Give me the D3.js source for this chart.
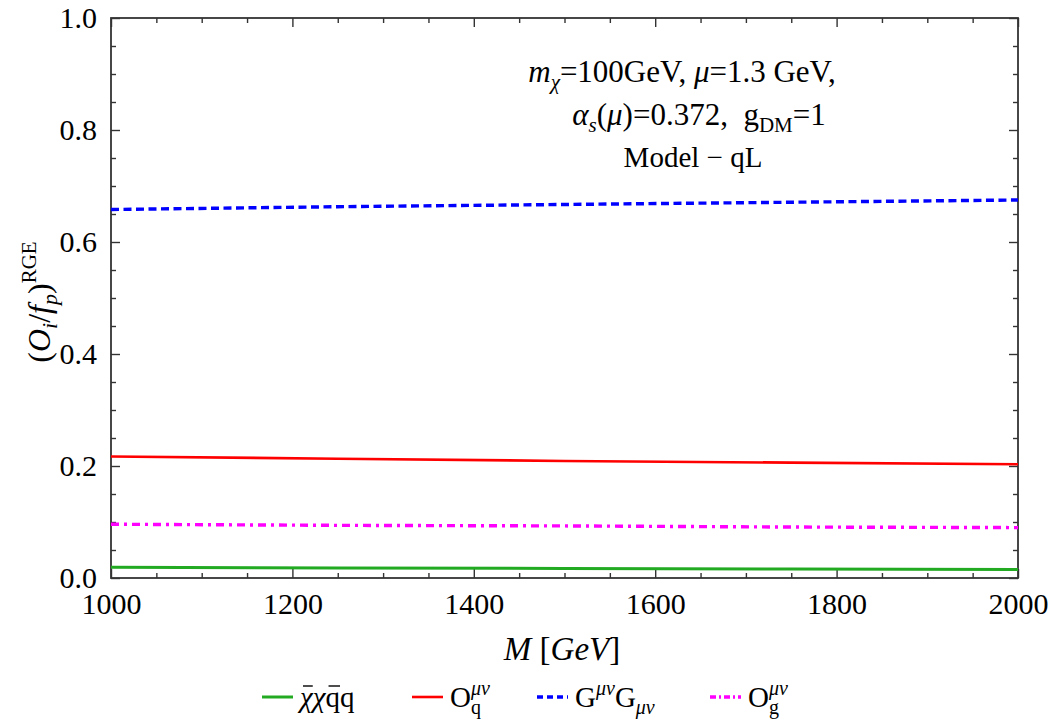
<!DOCTYPE html>
<html>
<head>
<meta charset="utf-8">
<script src="https://cdn.jsdelivr.net/npm/d3@7"></script>
<style>
body { margin: 0; background: #fff; }
text { font-family: "Liberation Serif", "DejaVu Serif", serif; fill: #000; }
.axis line { stroke: #333; stroke-width: 1.4; }
.axis text { font-size: 30px; font-family: "Liberation Serif", serif; fill: #000; }
</style>
</head>
<body>
<div id="chart"></div>
<script>
// data
var massM = [1000, 1250, 1500, 1750, 2000];
var chiQ = [0.019, 0.018, 0.017, 0.016, 0.015];
var opQ = [0.217, 0.213, 0.209, 0.206, 0.203];
var gluGG = [0.658, 0.663, 0.667, 0.671, 0.675];
var opG = [0.096, 0.094, 0.093, 0.091, 0.090];
var xTicks = [1000, 1200, 1400, 1600, 1800, 2000];
var yTicks = [0.0, 0.2, 0.4, 0.6, 0.8, 1.0];

var wd = 1050, ht = 722;
var pLeft = 111, pRight = 1018, pTop = 18, pBottom = 578;

var svg = d3.select('#chart')
	.append("svg")
	.attr("width", wd)
	.attr("height", ht);

var x = d3.scaleLinear().domain([1000, 2000]).range([pLeft, pRight]);
var y = d3.scaleLinear().domain([0, 1]).range([pBottom, pTop]);

var xMinor = d3.range(1000, 2001, 50).filter(function(v){ return xTicks.indexOf(v) < 0; });
var yMinor = d3.range(0, 21).map(function(i){ return i*0.05; }).filter(function(v, i){ return i % 4 !== 0; });

function ticks(g, axis, vals, size, fmt) {
	g.call(axis.tickValues(vals).tickSizeInner(-size).tickSizeOuter(0)
		.tickPadding(size + 6)
		.tickFormat(fmt || ''));
	g.select('.domain').remove();
	g.attr('class', 'axis');
}

// bottom
svg.append('g').attr('transform', 'translate(0,' + pBottom + ')')
	.call(function(g){ ticks(g, d3.axisBottom(x), xTicks, 9, d3.format('d')); })
	.selectAll('text').attr('y', 15).attr('dy', '0.71em');
svg.append('g').attr('transform', 'translate(0,' + pBottom + ')')
	.call(function(g){ ticks(g, d3.axisBottom(x), xMinor, 5); });
// top
svg.append('g').attr('transform', 'translate(0,' + pTop + ')')
	.call(function(g){ ticks(g, d3.axisTop(x), xTicks, 9); });
svg.append('g').attr('transform', 'translate(0,' + pTop + ')')
	.call(function(g){ ticks(g, d3.axisTop(x), xMinor, 5); });
// left
svg.append('g').attr('transform', 'translate(' + pLeft + ',0)')
	.call(function(g){ ticks(g, d3.axisLeft(y), yTicks, 9, d3.format('.1f')); })
	.selectAll('text').attr('x', -14);
svg.append('g').attr('transform', 'translate(' + pLeft + ',0)')
	.call(function(g){ ticks(g, d3.axisLeft(y), yMinor, 5); });
// right
svg.append('g').attr('transform', 'translate(' + pRight + ',0)')
	.call(function(g){ ticks(g, d3.axisRight(y), yTicks, 9); });
svg.append('g').attr('transform', 'translate(' + pRight + ',0)')
	.call(function(g){ ticks(g, d3.axisRight(y), yMinor, 5); });

// frame
svg.append('rect')
	.attr('x', pLeft).attr('y', pTop)
	.attr('width', pRight-pLeft).attr('height', pBottom-pTop)
	.attr('fill', 'none').attr('stroke', '#333').attr('stroke-width', 1.8);

// curves
var series = [
	{ vals: chiQ, color: '#22aa22', dash: null, leg: null, w: 3 },
	{ vals: opQ, color: '#ff0000', dash: null, leg: null, w: 2.6 },
	{ vals: gluGG, color: '#0000ff', dash: '8,4.5', leg: '6,4', w: 3.4 },
	{ vals: opG, color: '#ff00ff', dash: '8,5,3,5', leg: '6,3,2,3', w: 3.4 }
];
var line = d3.line().x(function(d, i){ return x(massM[i]); }).y(function(d){ return y(d); });
svg.selectAll('.curve').data(series).enter()
	.append('path')
	.attr('class', 'curve')
	.attr('d', function(d){ return line(d.vals); })
	.attr('fill', 'none')
	.attr('stroke', function(d){ return d.color; })
	.attr('stroke-width', function(d){ return d.w; })
	.attr('stroke-dasharray', function(d){ return d.dash; });

// axis titles
var xt = svg.append('text').attr('x', 562).attr('y', 660)
	.attr('text-anchor', 'middle').style('font-size', '33px');
xt.append('tspan').style('font-style', 'italic').text('M');
xt.append('tspan').text(' [');
xt.append('tspan').style('font-style', 'italic').text('GeV');
xt.append('tspan').text(']');

var yt = svg.append('text')
	.attr('transform', 'translate(50,302) rotate(-90)')
	.attr('text-anchor', 'middle').style('font-size', '32px');
yt.append('tspan').text('(');
yt.append('tspan').style('font-style', 'italic').text('O');
yt.append('tspan').style('font-style', 'italic').style('font-size', '22px').attr('dy', 7).text('i');
yt.append('tspan').attr('dy', -7).text('/');
yt.append('tspan').style('font-style', 'italic').text('f');
yt.append('tspan').style('font-style', 'italic').style('font-size', '22px').attr('dy', 7).text('p');
yt.append('tspan').attr('dy', -7).text(')');
yt.append('tspan').style('font-size', '21px').attr('dy', -14).text('RGE');

// annotation
var ann = svg.append('g').attr('text-anchor', 'middle').style('font-size', '31px');
var a1 = ann.append('text').attr('x', 682).attr('y', 82);
a1.append('tspan').style('font-style', 'italic').text('m');
a1.append('tspan').style('font-style', 'italic').style('font-size', '21px').attr('dy', 7).text('χ');
a1.append('tspan').attr('dy', -7).text('=100GeV, ');
a1.append('tspan').style('font-style', 'italic').text('μ');
a1.append('tspan').text('=1.3 GeV,');
var a2 = ann.append('text').attr('x', 699).attr('y', 125).attr('xml:space', 'preserve');
a2.append('tspan').style('font-style', 'italic').text('α');
a2.append('tspan').style('font-style', 'italic').style('font-size', '21px').attr('dy', 7).text('s');
a2.append('tspan').attr('dy', -7).text('(');
a2.append('tspan').style('font-style', 'italic').text('μ');
a2.append('tspan').text(')=0.372,  g');
a2.append('tspan').style('font-size', '21px').attr('dy', 7).text('DM');
a2.append('tspan').attr('dy', -7).text('=1');
ann.append('text').attr('x', 693).attr('y', 167).style('font-size', '29px').text('Model − qL');

// legend
var legItems = [
	{ x: 262, s: series[0], parts: [['χ', 'over'], ['χ', ''], ['q', 'over'], ['q', '']] },
	{ x: 412, s: series[1], parts: [['O', ''], ['q', 'sub'], ['μν', 'supb']] },
	{ x: 537, s: series[2], parts: [['G', ''], ['μν', 'sup'], ['G', ''], ['μν', 'sub']] },
	{ x: 710, s: series[3], parts: [['O', ''], ['g', 'sub'], ['μν', 'supb']] }
];
var leg = svg.selectAll('.leg').data(legItems).enter().append('g')
	.attr('class', 'leg')
	.attr('transform', function(d){ return 'translate(' + d.x + ',697)'; });
leg.append('line')
	.attr('x1', 0).attr('x2', 31).attr('y1', 0).attr('y2', 0)
	.attr('stroke', function(d){ return d.s.color; })
	.attr('stroke-width', function(d){ return d.s.w; })
	.attr('stroke-dasharray', function(d){ return d.s.leg; });
leg.append('text').attr('x', 38).attr('y', 10).style('font-size', '29px')
	.each(function(d){
		var t = d3.select(this), dy = 0, over = [];
		d.parts.forEach(function(p, k){
			var sp = t.append('tspan');
			var shift = 0;
			if (p[1] === 'over') { over.push(k); }
			if (p[1] === 'sub') { shift = 7; sp.style('font-size', '20px'); }
			if (p[1] === 'sup') { shift = -12; sp.style('font-size', '20px'); }
			if (p[1] === 'supb') { shift = -12; sp.style('font-size', '20px').attr('dx', -10); }
			if (p[0] === 'χ' || p[0] === 'μν') sp.style('font-style', 'italic');
			sp.attr('dy', shift - dy).text(p[0]);
			dy = shift;
		});
		// bars over the conjugated symbols
		var g = d3.select(this.parentNode), node = this;
		over.forEach(function(k){
			var b = node.getExtentOfChar(k);
			g.append('line')
				.attr('x1', b.x + 3).attr('x2', b.x + b.width)
				.attr('y1', -11).attr('y2', -11)
				.attr('stroke', '#000').attr('stroke-width', 1.4);
		});
	});
</script>
</body>
</html>
